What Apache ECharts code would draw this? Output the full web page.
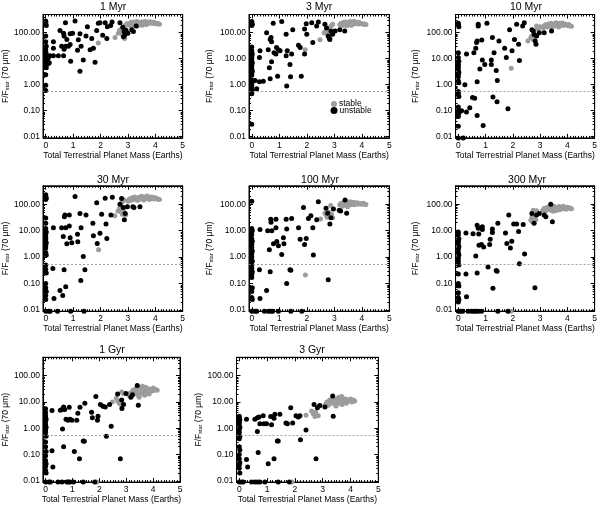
<!DOCTYPE html>
<html><head><meta charset="utf-8">
<script src="https://cdn.jsdelivr.net/npm/echarts@6.0.0/dist/echarts.min.js"></script>
<style>html,body{margin:0;padding:0;background:#fff}#c{width:600px;height:505px}</style>
</head><body><div id="c"></div>
<script>
const panelTitles = ['1 Myr','3 Myr','10 Myr','30 Myr','100 Myr','300 Myr','1 Gyr','3 Gyr'];
const xTicks = [0,1,2,3,4,5];
const threshold = 0.55;
const seriesNames = ['stable','unstable'];

const unstable1Myr = [[0,280],[0,250],[0,220],[0.02,190],[0,75],[0,45],[0.02,30],[0,22],[0,18],[0.02,15],[0,13],[0,12],[0.03,11],[0,10],[0,9],[0.02,8],[0,7],[0,6],[0,5],[0.02,4.5],[0,2.4],[0,0.95],[0,0.6],[0.1,12],[0.08,10],[0.1,6.5],
[0.28,45],[0.28,25],[0.13,7],[0.15,13],[0.28,13],[0.46,13],[0.52,120],[0.65,95],[0.67,75],[0.72,240],[0.77,55],[0.58,30],[0.67,23],[0.73,30],[0.83,30],[0.65,13],[0.89,90],[0.98,95],[0.91,8],[0.89,35],[1.07,280],[1.19,53],[1.16,21],[1.25,90],[1.29,30],[1.37,9],[1.25,3.3],[1.47,75],[1.52,170],[1.62,22],[1.74,25],[1.8,7.3],[1.68,60],[1.86,120],[1.92,230],[1.98,240],[2.08,80],[2.17,240],[2.25,170],[2.23,60],[2.37,190],[2.42,260],[2.71,240],[2.81,160],[2.86,110],[2.88,80],[2.84,70],[2.93,125],[3.0,95],[3.14,130],[3.2,110],[3.3,180]];
const stable1Myr = [[1.92,40],[2.53,65],[2.65,95],[2.69,125],[2.74,100],[2.78,110],[2.81,80],[2.85,70],[2.9,190],[2.96,220],[2.83,145],[2.88,60],
[3.0,200],[3.05,230],[3.1,180],[3.12,250],[3.18,210],[3.2,260],[3.25,190],[3.3,230],[3.32,270],[3.38,210],[3.4,250],[3.45,240],[3.48,200],[3.5,260],[3.55,230],[3.58,250],[3.6,215],[3.62,270],[3.66,240],[3.7,225],[3.72,255],[3.76,245],[3.8,230],[3.82,265],[3.86,240],[3.9,250],[3.93,225],[3.96,245],[4.0,235],[4.05,215],[4.1,225],[4.15,210],[3.35,180],[3.52,195],[3.68,205]];

const unstable3Myr = [[0,270],[0,240],[0.02,210],[0,190],[0,28],[0,20],[0.02,15],[0,12],[0,10],[0,8],[0.02,7],[0,6],[0,5],[0,4],[0.02,3.3],[0,2.8],[0,2.3],[0,1.5],[0.02,1.3],[0,1.0],[0,0.8],[0.02,0.6],[0,0.45],[0,0.03],
[0.12,1.45],[0.18,0.7],[0.28,1.3],[0.3,20],[0.28,11],[0.42,1.35],[0.54,100],[0.6,22],[0.67,1.7],[0.64,4.5],[0.67,55],[0.7,65],[0.72,45],[0.72,7.7],[0.78,230],[0.81,17],[0.88,15],[0.9,27],[0.94,2.1],[0.97,22],[1.03,20],[1.09,270],[1.25,13],[1.25,87],[1.27,0.9],[1.29,20],[1.39,6],[1.41,2],[1.45,15],[1.49,130],[1.7,33],[1.76,27],[1.8,2.1],[1.92,15],[1.92,140],[1.98,220],[2.0,87],[2.18,240],[2.22,42],[2.36,180],[2.42,260],[2.66,210],[2.72,150],[2.78,75],[2.82,60],[2.84,55],[2.88,115],[2.94,87],[3.03,115],[3.2,130],[3.38,115]];
const stable3Myr = [[1.94,22],[2.48,53],[2.63,100],[2.7,115],[2.72,95],[2.78,80],[2.84,65],[2.88,180],[2.94,210],[2.76,130],[2.8,70],
[3.2,200],[3.25,230],[3.3,190],[3.35,250],[3.4,215],[3.42,260],[3.48,235],[3.5,200],[3.55,250],[3.58,270],[3.6,225],[3.65,245],[3.68,210],[3.7,260],[3.75,240],[3.78,225],[3.8,250],[3.85,235],[3.88,215],[3.9,245],[3.95,230],[4.0,220],[4.05,210],[4.1,215],[4.15,205],[3.45,185],[3.62,195],[3.72,275]];

const unstable10Myr = [[0,230],[0,200],[0.02,170],[0,17],[0,11],[0.02,8],[0,6],[0,5],[0,4],[0.02,3],[0,2.5],[0,2],[0,1.4],[0.02,1.2],[0,0.55],[0,0.45],[0.02,0.35],[0,0.14],[0,0.1],[0.02,0.08],[0,0.06],[0,0.025],[0,0.009],
[0.12,0.1],[0.18,0.009],[0.24,1.0],[0.3,15],[0.3,0.09],[0.42,0.13],[0.52,0.32],[0.57,17],[0.6,0.3],[0.64,25],[0.67,42],[0.69,48],[0.69,1.3],[0.69,0.065],[0.73,210],[0.73,180],[0.79,4],[0.86,52],[0.88,9],[0.91,0.027],[0.97,6],[1.05,230],[1.21,6],[1.21,9],[1.25,65],[1.27,0.34],[1.31,17],[1.39,3.5],[1.42,0.22],[1.43,1.45],[1.49,48],[1.7,25],[1.76,11],[1.82,0.12],[1.88,130],[1.97,20],[2.06,55],[2.14,210],[2.21,36],[2.24,8.5],[2.36,180],[2.42,240],[2.7,130],[2.75,115],[2.78,85],[2.82,48],[2.85,36],[2.87,75],[2.97,100],[3.15,100],[3.42,115]];
const stable10Myr = [[1.94,4.3],[2.55,48],[2.66,65],[2.7,75],[2.75,55],[2.8,85],[2.87,180],[2.94,155],[2.9,140],[3.0,170],
[3.1,150],[3.15,180],[3.2,200],[3.25,165],[3.3,215],[3.35,185],[3.4,230],[3.45,200],[3.5,175],[3.52,215],[3.58,240],[3.6,195],[3.65,220],[3.7,180],[3.72,230],[3.78,205],[3.82,235],[3.85,190],[3.9,215],[3.95,200],[4.0,190],[4.05,205],[4.1,180],[4.15,175],[3.42,160],[3.68,165]];

const unstable30Myr = [[0,230],[0,200],[0.02,170],[0,150],[0,30],[0,19],[0,12],[0.02,9],[0,7],[0,5.5],[0,4.5],[0.02,3.5],[0,2.8],[0,2.2],[0,1.5],[0.02,1.2],[0,0.5],[0,0.35],[0.02,0.25],[0,0.1],[0,0.07],[0.02,0.05],[0,0.035],[0,0.025],[0,0.009],
[0.1,0.009],[0.16,0.009],[0.26,0.37],[0.3,0.027],[0.28,13],[0.43,0.009],[0.52,0.055],[0.58,13],[0.62,0.035],[0.64,6],[0.67,0.33],[0.68,34],[0.7,39],[0.73,13],[0.73,0.075],[0.77,3.2],[0.86,15],[0.86,39],[0.89,5.4],[0.91,0.009],[0.95,3.5],[1.07,195],[1.16,7.3],[1.17,3.8],[1.25,45],[1.29,13],[1.28,0.13],[1.37,1.05],[1.4,0.009],[1.43,0.33],[1.47,39],[1.72,19],[1.74,6.5],[1.86,115],[1.88,3.3],[1.98,8],[2.04,42],[2.17,170],[2.2,18],[2.23,5.1],[2.38,39],[2.43,185],[2.71,100],[2.77,165],[2.83,75],[2.87,26],[2.9,45],[2.98,80],[3.18,80],[3.22,75],[3.44,80]];
const stable30Myr = [[1.93,1.9],[2.52,37],[2.64,56],[2.7,70],[2.74,52],[2.8,42],[2.84,60],[2.9,42],[2.92,40],[2.87,145],[2.78,120],
[3.0,130],[3.05,160],[3.1,140],[3.15,175],[3.2,150],[3.25,190],[3.3,165],[3.35,140],[3.4,185],[3.45,160],[3.5,200],[3.55,170],[3.58,145],[3.62,190],[3.66,165],[3.7,205],[3.75,175],[3.78,150],[3.82,190],[3.86,170],[3.9,185],[3.95,160],[4.0,175],[4.05,165],[4.1,155],[4.15,150]];

const unstable100Myr = [[0,130],[0,12],[0.02,10],[0,7],[0,5],[0.02,4],[0,3],[0,2.3],[0.02,1.7],[0,1.3],[0,1.0],[0.02,0.7],[0,0.5],[0,0.38],[0.02,0.28],[0,0.22],[0,0.17],[0.02,0.07],[0,0.05],[0,0.03],[0.02,0.025],[0,0.009],
[0.12,0.009],[0.18,0.009],[0.28,0.33],[0.3,11],[0.3,0.027],[0.46,0.009],[0.54,0.055],[0.58,10],[0.64,1.9],[0.67,0.28],[0.69,27],[0.7,21],[0.6,0.009],[0.69,0.009],[0.76,0.009],[0.73,10],[0.79,3.2],[0.88,27],[0.88,13],[0.91,3.9],[0.97,2.7],[0.97,0.009],[1.09,1.25],[1.15,5.4],[1.17,3.2],[1.25,27],[1.27,11.5],[1.27,0.1],[1.39,0.33],[1.42,0.32],[1.42,0.009],[1.45,29],[1.7,13],[1.76,4.8],[1.82,0.009],[1.88,75],[1.92,3],[1.98,5.1],[2.06,29],[2.15,37],[2.22,13],[2.24,1.2],[2.36,26],[2.42,125],[2.7,70],[2.76,46],[2.78,0.14],[2.84,18],[2.88,31],[2.97,66],[3.18,60],[3.23,56],[3.39,145],[3.45,46]];
const stable100Myr = [[1.95,0.21],[2.5,28],[2.66,46],[2.7,40],[2.74,32],[2.78,38],[2.81,50],[2.87,90],[2.94,31],[2.9,42],
[3.2,95],[3.25,110],[3.3,85],[3.35,120],[3.38,100],[3.42,130],[3.45,90],[3.5,115],[3.55,105],[3.58,125],[3.6,95],[3.65,110],[3.7,120],[3.72,95],[3.78,105],[3.82,115],[3.85,100],[3.9,110],[3.95,105],[4.0,100],[4.05,110],[4.1,100],[4.15,98],[3.48,80]];

const unstable300Myr = [[0,9],[0,7],[0.02,5],[0,4],[0,3.3],[0.02,2.5],[0,2],[0,1.5],[0.02,1.2],[0,0.9],[0,0.7],[0.02,0.5],[0,0.23],[0,0.1],[0.02,0.08],[0,0.045],[0,0.03],[0.02,0.025],[0,0.02],[0,0.009],
[0.08,0.009],[0.16,0.009],[0.36,0.009],[0.48,0.009],[0.57,0.009],[0.64,0.009],[0.73,0.009],[0.85,0.009],[1.45,0.009],[1.82,0.009],
[0.28,8.2],[0.28,0.23],[0.3,0.032],[0.54,7.7],[0.64,1.1],[0.69,0.25],[0.69,16],[0.73,12.5],[0.75,7.5],[0.76,2.8],[0.85,3],[0.88,14],[0.88,11],[0.93,2.4],[1.09,0.42],[1.15,3],[1.17,4.7],[1.25,8.5],[1.25,11.5],[1.27,0.067],[1.39,0.31],[1.42,0.29],[1.45,19],[1.73,8.2],[1.78,3.3],[1.85,39],[1.91,2.2],[1.96,4],[2.03,18],[2.14,18],[2.21,9.4],[2.24,0.56],[2.38,17],[2.43,1.3],[2.7,45],[2.78,19],[2.81,0.07],[2.87,39],[2.97,45],[3.15,39],[3.21,34],[3.39,100],[3.45,22]];
const stable300Myr = [[1.93,0.009],[2.66,25],[2.72,22],[2.78,30],[2.84,26],[2.75,60],[2.87,57],[2.7,32],
[3.1,60],[3.15,70],[3.2,55],[3.25,75],[3.3,65],[3.35,80],[3.4,60],[3.45,72],[3.5,85],[3.55,65],[3.58,78],[3.6,58],[3.65,70],[3.7,82],[3.72,62],[3.78,75],[3.82,68],[3.85,85],[3.9,72],[3.95,65],[4.0,78],[4.05,70],[4.1,72],[4.15,68],[3.48,55]];

const unstable1Gyr = [[0,5.5],[0,4],[0,3.0],[0,2.6],[0.02,2.2],[0,1.8],[0,1.4],[0.02,1.1],[0,0.9],[0,0.7],[0.02,0.5],[0,0.3],[0,0.2],[0.02,0.13],[0,0.09],[0,0.06],[0.02,0.045],[0,0.035],[0,0.025],[0.02,0.02],[0,0.009],
[0.12,0.009],[0.18,0.009],[0.46,0.009],[0.61,0.009],[0.79,0.009],[0.84,0.009],[0.91,0.009],[1.04,0.009],[1.4,0.009],[1.83,0.009],
[0.24,0.14],[0.27,0.034],[0.24,4.7],[0.55,4.8],[0.61,5.2],[0.63,0.95],[0.67,0.2],[0.67,6.4],[0.71,5.2],[0.76,2.2],[0.83,2.0],[0.88,6.3],[0.91,2.2],[0.98,2.0],[1.07,0.13],[1.16,2.0],[1.2,3.7],[1.26,0.07],[1.28,6.3],[1.4,0.33],[1.44,0.32],[1.46,9],[1.71,4.1],[1.74,2.5],[1.87,16],[1.93,2],[1.95,2.9],[2.04,8],[2.13,6.9],[2.22,6.5],[2.26,0.5],[2.38,8],[2.44,1.2],[2.68,20],[2.78,0.07],[2.83,12],[2.84,5.6],[2.9,8],[2.99,21],[3.17,15],[3.23,19],[3.41,42],[3.45,7.5]];
const stable1Gyr = [[1.9,0.009],[2.48,10],[2.63,14],[2.68,11],[2.74,9],[2.8,8],[2.83,24],[2.9,21],[2.78,10],
[3.1,18],[3.15,22],[3.2,16],[3.25,28],[3.3,20],[3.35,32],[3.4,25],[3.45,18],[3.5,35],[3.55,22],[3.58,30],[3.6,40],[3.65,20],[3.7,28],[3.72,36],[3.78,24],[3.82,32],[3.85,20],[3.9,30],[3.95,26],[4.0,34],[4.05,28],[4.1,30],[4.15,28],[3.48,15],[3.68,18]];

const unstable3Gyr = [[0,2.9],[0,2.5],[0.02,2.1],[0,1.7],[0,1.4],[0.02,1.1],[0,0.9],[0,0.7],[0.02,0.5],[0,0.4],[0,0.2],[0.02,0.15],[0,0.1],[0,0.07],[0.02,0.05],[0,0.04],[0,0.03],[0.02,0.02],[0,0.009],
[0.08,0.009],[0.14,0.009],[0.44,0.009],[0.56,0.009],[0.65,0.009],[0.74,0.009],[0.92,0.009],[1.4,0.009],[1.8,0.009],
[0.26,2.2],[0.26,0.065],[0.3,0.034],[0.56,2.2],[0.65,2.5],[0.65,0.75],[0.68,0.12],[0.71,2.7],[0.74,1.5],[0.86,3],[0.89,1.5],[0.98,1.5],[1.04,0.045],[1.13,2.8],[1.16,1.35],[1.25,2.4],[1.25,0.07],[1.28,3.4],[1.37,0.33],[1.4,0.33],[1.46,3.4],[1.68,1.6],[1.73,1.5],[1.85,6],[1.92,1.6],[2.04,3],[2.12,2.7],[2.18,3],[2.2,0.37],[2.4,0.87],[2.69,8],[2.76,0.07],[2.81,6],[2.9,7.4],[3.08,6.4],[3.36,17],[3.38,2.9]];
const stable3Gyr = [[1.9,0.009],[2.4,3.1],[2.6,4.5],[2.66,3.6],[2.72,2.8],[2.78,3.2],[2.84,3.0],[2.88,7],[2.75,4.2],
[3.1,8],[3.15,10],[3.2,7.5],[3.25,12],[3.3,9],[3.35,14],[3.4,11],[3.45,8],[3.5,13],[3.55,10],[3.58,15],[3.6,9],[3.65,12],[3.7,8],[3.72,14],[3.78,10],[3.82,13],[3.85,9],[3.9,12],[3.95,11],[4.0,13],[4.05,10],[4.1,12],[4.15,11],[3.48,7],[3.68,16]];

const unstableSets = [unstable1Myr, unstable3Myr, unstable10Myr, unstable30Myr, unstable100Myr, unstable300Myr, unstable1Gyr, unstable3Gyr];
const stableSets = [stable1Myr, stable3Myr, stable10Myr, stable30Myr, stable100Myr, stable300Myr, stable1Gyr, stable3Gyr];

// layout (pixels)
const layout = [
  {l:43,   t:14.5,  w:139.7, h:123.4, tx:113, ty:1.5, ng:30},
  {l:249,  t:14.5,  w:140.3, h:123.4, tx:319, ty:1.5, ng:35},
  {l:455.6,t:14.5,  w:140.4, h:123.4, tx:526, ty:1.5, ng:35},
  {l:43,   t:185.8, w:139.7, h:125.4, tx:113, ty:174.5, ng:30},
  {l:249,  t:185.8, w:140.3, h:125.4, tx:320, ty:174.5, ng:35},
  {l:455.6,t:185.8, w:140.4, h:125.4, tx:527, ty:174.5, ng:35},
  {l:41,   t:357.3, w:139,   h:125,   tx:112, ty:344.5, ng:29},
  {l:236.5,t:357.3, w:141.8, h:125,   tx:312, ty:344.5, ng:30}
];

const FONT = "'Liberation Sans', Arial, Helvetica, sans-serif";
const grids = [], xAxes = [], yAxes = [], series = [], titles = [];
const tickStyle = {color:'#000', width:1};
layout.forEach((L, i) => {
  grids.push({left:L.l, top:L.t, width:L.w, height:L.h, show:true, borderColor:'#000', borderWidth:1, backgroundColor:'transparent'});
  titles.push({text:panelTitles[i], left:L.tx, top:L.ty, textAlign:'center', padding:0,
    textStyle:{fontSize:10.5, fontWeight:'normal', color:'#000', fontFamily:FONT}});
  const xBase = {type:'value', gridIndex:i, min:-0.1, max:5,
    axisLine:{show:true, onZero:false, lineStyle:{color:'#000', width:1}},
    axisTick:{show:true, inside:true, length:4, lineStyle:tickStyle, customValues:xTicks},
    minorTick:{show:true, splitNumber:10, length:2, lineStyle:tickStyle},
    splitLine:{show:false}};
  xAxes.push(Object.assign({}, xBase, {position:'bottom',
    axisLabel:{fontSize:8.5, color:'#000', margin:3, fontFamily:FONT, customValues:xTicks},
    name:'Total Terrestrial Planet Mass (Earths)', nameLocation:'middle', nameGap:12,
    nameTextStyle:{fontSize:8.5, color:'#000', fontFamily:FONT}}));
  xAxes.push(Object.assign({}, xBase, {position:'top', axisLabel:{show:false}}));
  const yBase = {type:'log', logBase:10, gridIndex:i, min:0.009, max:500,
    axisLine:{show:true, onZero:false, lineStyle:{color:'#000', width:1}},
    axisTick:{show:true, inside:true, length:4, lineStyle:tickStyle},
    minorTick:{show:true, splitNumber:9, length:2, lineStyle:tickStyle},
    splitLine:{show:false}};
  yAxes.push(Object.assign({}, yBase, {position:'left',
    axisLabel:{fontSize:8.5, color:'#000', margin:3, fontFamily:FONT, showMinLabel:false, showMaxLabel:false,
      formatter: v => Number(v).toFixed(2)},
    name:'F/F{s|star} (70 μm)', nameLocation:'middle', nameGap:L.ng, nameRotate:90,
    nameTextStyle:{fontSize:8.5, color:'#000', fontFamily:FONT,
      rich:{s:{fontSize:5.5, color:'#000', fontFamily:FONT, verticalAlign:'bottom', padding:[3,0,0,0]}}}}));
  yAxes.push(Object.assign({}, yBase, {position:'right', axisLabel:{show:false}}));
  series.push({type:'scatter', name:seriesNames[0], xAxisIndex:2*i, yAxisIndex:2*i, data:stableSets[i],
    symbol:'circle', symbolSize:5, itemStyle:{color:'#9c9c9c', opacity:1}, silent:true,
    markLine:{silent:true, symbol:'none', label:{show:false},
      lineStyle:{type:[2,2], color:'#888', width:0.8}, data:[{yAxis:threshold}]}});
  series.push({type:'scatter', name:seriesNames[1], xAxisIndex:2*i, yAxisIndex:2*i, data:unstableSets[i],
    symbol:'circle', symbolSize:5, itemStyle:{color:'#000', opacity:1}, silent:true});
});

const chart = echarts.init(document.getElementById('c'));
chart.setOption({
  animation:false,
  backgroundColor:'#fff',
  textStyle:{fontFamily:FONT},
  title:titles,
  legend:[
    {data:[{name:'stable', icon:'circle'}], left:331, top:99.5, orient:'vertical', padding:0, itemGap:0,
      itemWidth:6, itemHeight:6, selectedMode:false, textStyle:{fontSize:8.5, color:'#000', fontFamily:FONT, padding:[0,0,0,-3]}},
    {data:[{name:'unstable', icon:'circle'}], left:330.5, top:106, orient:'vertical', padding:0, itemGap:0,
      itemWidth:7, itemHeight:7, selectedMode:false, textStyle:{fontSize:8.5, color:'#000', fontFamily:FONT, padding:[0,0,0,-3]}}
  ],
  grid:grids, xAxis:xAxes, yAxis:yAxes, series:series
});
</script>
</body></html>
